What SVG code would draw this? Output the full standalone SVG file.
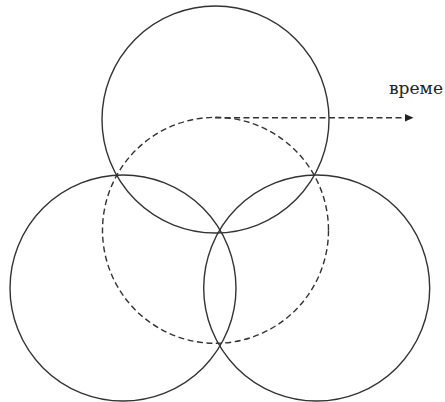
<svg xmlns="http://www.w3.org/2000/svg" width="445" height="402" viewBox="0 0 445 402">
<defs>
<style>
.c{fill:none;stroke:#333;stroke-width:1.4}
.d{fill:none;stroke:#333;stroke-width:1.4;stroke-dasharray:6 3.5}
.t{font-family:"DejaVu Serif","Liberation Serif",serif;font-size:17.5px;fill:#222}
</style>
<marker id="ah" markerWidth="9" markerHeight="9" refX="9" refY="4.5" orient="auto" markerUnits="userSpaceOnUse">
<path d="M0,0.5 L9,4.5 L0,8.5 Z" fill="#222"/>
</marker>
</defs>
<g id="top"><circle class="c" cx="215.5" cy="119.5" r="113.5"/></g>
<g id="left"><circle class="c" cx="123" cy="288" r="113"/></g>
<g id="right"><circle class="c" cx="316.7" cy="288" r="113"/></g>
<g id="center"><circle class="d" cx="215.5" cy="230.3" r="113"/></g>
<g id="connectors"><line class="d" x1="215" y1="117.8" x2="413.5" y2="117.8" marker-end="url(#ah)"/></g>
<g id="label"><text class="t" x="389" y="93.5" textLength="54" lengthAdjust="spacingAndGlyphs">време</text></g>
</svg>
